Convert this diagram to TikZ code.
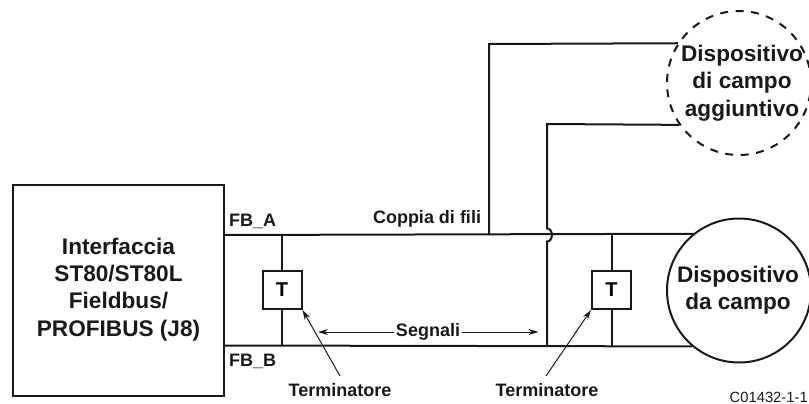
\documentclass[tikz,border=0pt]{standalone}
\usepackage{fontspec}
\setmainfont{Liberation Sans}
\usetikzlibrary{arrows.meta}
\tikzset{
  wire/.style={line width=2pt,black!90},
  box/.style={draw=black!90,line width=2pt,rectangle,inner sep=0pt},
  big/.style={font=\bfseries\fontsize{22.6}{27.3}\selectfont,align=center,inner sep=0pt,text=black!90},
  lab/.style={font=\bfseries\fontsize{18}{20}\selectfont,inner sep=0pt,text=black!90},
  devc/.style={circle,draw=black!90,line width=2pt,minimum size=144pt,inner sep=0pt},
  thin/.style={line width=1pt,black!90,-{Stealth[length=10pt,width=6pt]}}
}
\begin{document}
\begin{tikzpicture}[x=1pt,y=-1pt]
\useasboundingbox (0,0) rectangle (809,404);
\node[box,minimum width=210.5pt,minimum height=211pt] (iface) at (118.7,290.5) {};
\node[big] (ifacetxt) at (118.5,289.5) {Interfaccia\\ST80/ST80L\\Fieldbus/\\PROFIBUS (J8)};
\node[devc] (dev1) at (739,290.5) {};
\node[big] (dev1txt) at (738,290) {Dispositivo\\da campo};
\node[devc,dashed,dash pattern=on 8pt off 7.5pt] (dev2) at (739,83) {};
\node[big] (dev2txt) at (742,83) {Dispositivo\\di campo\\aggiuntivo};
\node[box,minimum width=39pt,minimum height=38pt,font=\bfseries\fontsize{20}{24}\selectfont] (t1) at (282,290) {T};
\node[box,minimum width=39pt,minimum height=38pt,font=\bfseries\fontsize{20}{24}\selectfont] (t2) at (611.5,290) {T};
\coordinate (a0) at (224,235);
\coordinate (b0) at (224,345.5);
\coordinate (a1) at (dev1.129.6);
\coordinate (b1) at (dev1.230.4);
\coordinate (ja) at (489,235);
\coordinate (jb) at (547,345.5);
\coordinate (topc) at (489,44);
\coordinate (midc) at (547,124);
\coordinate (bt) at (547,241.5);
\coordinate (bb) at (547,228.5);
% bus
\draw[wire] (a0) -- (a1);
\draw[wire] (b0) -- (b1);
\draw[wire] (ja) -- (topc) -- (dev2.147);
\draw[wire] (jb) -- (bt) .. controls (553.5,241.5) and (553.5,228.5) .. (bb) -- (midc) -- (dev2.215);
\draw[wire] (t1.north) -- (t1.north |- a0);
\draw[wire] (t1.south) -- (t1.south |- b0);
\draw[wire] (t2.north) -- (t2.north |- a0);
\draw[wire] (t2.south) -- (t2.south |- b0);
% labels
\node[lab,anchor=west] (fba) at (229,221) {FB\_A};
\node[lab,anchor=west] (fbb) at (229,361) {FB\_B};
\node[lab] (cop) at (427,218.5) {Coppia di fili};
\node[lab] (seg) at (428,332) {Segnali};
\coordinate (sl) at (318,332);
\coordinate (sr) at (538.5,332);
\draw[thin] ([xshift=-2pt]seg.west) -- (sl);
\draw[thin] ([xshift=2pt]seg.east) -- (sr);
\node[lab] (term1) at (340,390) {Terminatore};
\node[lab] (term2) at (547,390) {Terminatore};
\coordinate (tf1) at (340,376);
\coordinate (tf2) at (546,376);
\draw[thin] (tf1) -- (t1.south east);
\draw[thin] (tf2) -- (t2.south west);
\node[inner sep=0pt,anchor=east,font=\fontsize{14.8}{18}\selectfont,text=black!90] (code) at (808,397) {C01432-1-1};
\end{tikzpicture}
\end{document}
